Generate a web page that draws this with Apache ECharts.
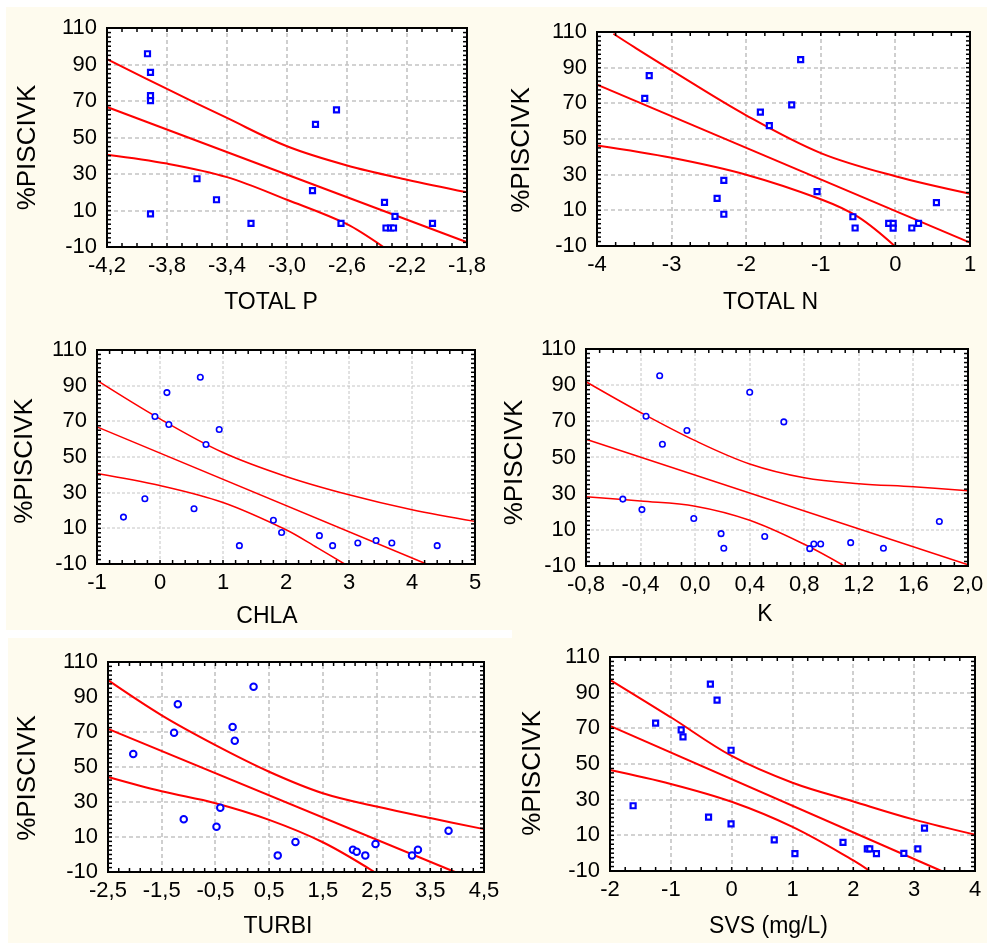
<!DOCTYPE html>
<html>
<head>
<meta charset="utf-8">
<script src="https://cdn.jsdelivr.net/npm/echarts@6/dist/echarts.min.js"></script>
<style>
html,body{margin:0;padding:0;background:#ffffff;}
#wrap{position:relative;width:987px;height:943px;background:#fefbee;overflow:hidden;}
.bg{position:absolute;background:#ffffff;z-index:1;}
#chart{position:absolute;left:0;top:0;width:987px;height:943px;z-index:2;}
</style>
</head>
<body>
<div id="wrap"><div id="chart"></div></div>
<script>
// ---------- DATA ----------
const yName = '%PISCIVK';

// Panel 1: TOTAL P
const totalPX = [-3.93,-3.91,-3.91,-3.91,-3.91,-3.60,-3.47,-3.24,-2.81,-2.83,-2.67,-2.64,-2.35,-2.28,-2.34,-2.31,-2.29,-2.03];
const totalPY = [95.9,85.7,72.9,70.2,8.1,27.4,15.9,3.0,57.2,20.9,65.1,3.0,14.5,6.8,0.4,0.4,0.4,3.0];
const totalPFitX = [-4.2,-1.8];
const totalPFitY = [66.7,-7.4];
const totalPUpX = [-4.2,-3.8,-3.4,-3.0,-2.6,-2.2,-1.8];
const totalPUpY = [93,76.6,60.7,45.2,34.7,26.9,20];
const totalPLoX = [-4.2,-3.8,-3.4,-3.0,-2.6,-2.357];
const totalPLoY = [40.6,35.7,28.3,15.9,2.5,-10];

// Panel 2: TOTAL N
const totalNX = [-3.30,-3.36,-1.27,-1.39,-1.81,-1.69,-2.30,-2.39,-2.30,-1.05,-0.57,-0.54,-0.09,-0.03,-0.03,0.22,0.31,0.55];
const totalNY = [85.5,72.8,94.5,69.1,65.1,57.5,26.8,16.7,7.8,20.5,6.4,0.1,2.7,2.7,0,0.1,2.7,14.3];
const totalNFitX = [-4,1];
const totalNFitY = [80.5,-8.1];
const totalNUpX = [-3.78,-3.5,-3,-2,-1,0,1];
const totalNUpY = [109,101.5,88.5,63.3,42.1,29.1,19.3];
const totalNLoX = [-4,-3,-2,-1,-0.5,-0.01];
const totalNLoY = [46.4,39.5,30,16.2,6.3,-10];

// Panel 3: CHLA
const chlaX = [-0.58,-0.24,-0.08,0.11,0.14,0.64,0.73,0.94,0.54,1.26,1.80,1.93,2.53,2.74,3.14,3.43,3.68,4.40];
const chlaY = [16.3,26.6,72.7,86.1,68.2,94.7,57,65.4,21,0.3,14.5,7.7,5.9,0.3,1.8,3.2,1.8,0.3];
const chlaFitX = [-1,4.23];
const chlaFitY = [66.9,-10];
const chlaUpX = [-1,0,1,2,3,4,5];
const chlaUpY = [93,71.4,52.5,39.1,28.8,20.4,13.9];
const chlaLoX = [-1,0,1,2,2.5,2.93];
const chlaLoY = [40.8,34,24.5,9.2,-1,-10];

// Panel 4: K
const kX = [-0.26,0.40,-0.36,0.65,-0.06,-0.24,-0.53,-0.39,-0.01,0.19,0.21,0.51,0.84,0.87,0.92,1.14,1.38,1.79];
const kY = [95.2,86.1,72.8,69.7,64.9,57.3,27,21.2,16.3,7.9,-0.2,6.3,-0.4,2.2,2.2,2.9,-0.2,14.6];
const kFitX = [-0.8,2.0];
const kFitY = [60.1,-9.3];
const kUpX = [-0.8,-0.4,0,0.4,0.8,1.2,1.6,2.0];
const kUpY = [91.9,74.9,59.3,46.4,38.8,35.5,33.8,31.6];
const kLoX = [-0.8,-0.4,0,0.4,0.8,1.094];
const kLoY = [28.3,25.9,23.1,15.3,2,-10];

// Panel 5: TURBI
const turbiX = [-2.03,-1.20,-1.27,-1.09,-0.48,-0.41,-0.18,-0.14,0.21,0.66,0.99,2.06,2.13,2.29,2.48,3.16,3.27,3.84];
const turbiY = [57.4,85.9,69.6,20.2,15.8,26.7,72.8,65,95.8,-0.5,7.1,2.7,1.6,-0.5,6,-0.5,2.7,13.6];
const turbiFitX = [-2.5,3.96];
const turbiFitY = [71.8,-10];
const turbiUpX = [-2.5,-1.5,-0.5,0.5,1.5,2.5,3.5,4.5];
const turbiUpY = [99.6,79.5,62.5,47.3,35,27.4,20.8,14.5];
const turbiLoX = [-2.5,-1.5,-0.5,0.5,1.5,2.46];
const turbiLoY = [44.3,36.1,29.3,19.8,7,-10];

// Panel 6: SVS (mg/L)
const svsX = [-1.62,-1.25,-0.83,-0.80,-0.35,-0.24,-0.38,-0.01,-0.01,0.70,1.04,1.83,2.23,2.27,2.38,2.83,3.06,3.17];
const svsY = [26.6,72.9,69.1,65.2,94.8,85.8,20.2,57.7,16.4,7.4,-0.3,6.1,2.4,2.4,-0.3,-0.1,2.4,14];
const svsFitX = [-2,3.45];
const svsFitY = [71.4,-10];
const svsUpX = [-2,-1,0,1,2,3,4];
const svsUpY = [97.2,76.2,54.5,39.5,29,18.8,10.4];
const svsLoX = [-2,-1,0,1,2,2.27];
const svsLoY = [46.6,38.8,28.8,14.7,-4,-10];

// Axis names and x-axis ranges [min, max, interval, decimals, minor splits]
const xNames = ['TOTAL P','TOTAL N','CHLA','K','TURBI','SVS (mg/L)'];
const xRanges = [[-4.2,-1.8,0.4,1,4],[-4,1,1,0,4],[-1,5,1,0,5],[-0.8,2.0,0.4,1,4],[-2.5,4.5,1,1,5],[-2,4,1,0,4]];
const yRange = [-10,110,20,8];

// ---------- LAYOUT / STYLE ----------
const panels = [
  {x:totalPX,y:totalPY,fx:totalPFitX,fy:totalPFitY,ux:totalPUpX,uy:totalPUpY,lx:totalPLoX,ly:totalPLoY},
  {x:totalNX,y:totalNY,fx:totalNFitX,fy:totalNFitY,ux:totalNUpX,uy:totalNUpY,lx:totalNLoX,ly:totalNLoY},
  {x:chlaX,y:chlaY,fx:chlaFitX,fy:chlaFitY,ux:chlaUpX,uy:chlaUpY,lx:chlaLoX,ly:chlaLoY},
  {x:kX,y:kY,fx:kFitX,fy:kFitY,ux:kUpX,uy:kUpY,lx:kLoX,ly:kLoY},
  {x:turbiX,y:turbiY,fx:turbiFitX,fy:turbiFitY,ux:turbiUpX,uy:turbiUpY,lx:turbiLoX,ly:turbiLoY},
  {x:svsX,y:svsY,fx:svsFitX,fy:svsFitY,ux:svsUpX,uy:svsUpY,lx:svsLoX,ly:svsLoY}
];
const layout = [
  {l:107,t:28,w:360,h:219, xGap:44, yGap:66, xShift:32, yShift:20, marker:'sq', lw:2, thin:false},
  {l:597,t:32,w:373,h:214, xGap:45, yGap:62, xShift:26, yShift:22, marker:'sq', lw:2, thin:false},
  {l:97, t:350,w:378,h:214, xGap:41, yGap:59, xShift:38, yShift:8,  marker:'ci', lw:1.5, thin:true},
  {l:586,t:349,w:382,h:217, xGap:37, yGap:58, xShift:24, yShift:10, marker:'ci', lw:1.5, thin:true},
  {l:108,t:662,w:376,h:210, xGap:43, yGap:67, xShift:36, yShift:22, marker:'ci2', lw:2, thin:false},
  {l:610,t:657,w:365,h:214, xGap:44, yGap:64, xShift:48, yShift:18, marker:'sq', lw:2, thin:false}
];
const whiteRects = [[0,0,987,7],[0,0,6,630],[0,630,512,8],[0,638,8,305]];
const FONT = '"Liberation Sans", Arial, sans-serif';
const RED = '#ff0000';
const BLUE = '#0000ff';

// white page strips and white plot areas, beneath the transparent chart canvas
const wrap = document.getElementById('wrap');
function addBg(x, y, w, h){
  const d = document.createElement('div');
  d.className = 'bg';
  d.style.left = x + 'px'; d.style.top = y + 'px'; d.style.width = w + 'px'; d.style.height = h + 'px';
  wrap.insertBefore(d, wrap.firstChild);
}
whiteRects.forEach(r => addBg(r[0], r[1], r[2], r[3]));
layout.forEach(L => addBg(L.l, L.t, L.w, L.h));

const grids = [], xAxes = [], yAxes = [], series = [];
function fmt(dec){ return v => (dec ? v.toFixed(dec) : String(Math.round(v))).replace('.', ','); }

// dashed grid lines, drawn through the axis scales
function gridRender(i){
  return function(params, api){
    const r = xRanges[i], L = layout[i];
    const st = L.thin ? {stroke:'#c4c4c4', lineWidth:1, lineDash:[3,2]} : {stroke:'#c4c4c4', lineWidth:1.6, lineDash:[4,3]};
    const ch = [];
    const nx = Math.round((r[1]-r[0])/r[2]);
    for (let k = 1; k < nx; k++){
      const v = r[0] + k*r[2];
      const a = api.coord([v, yRange[0]]), b = api.coord([v, yRange[1]]);
      const x = Math.round(a[0]);
      ch.push({type:'line', shape:{x1:x, y1:a[1], x2:x, y2:b[1]}, style:Object.assign({}, st)});
    }
    const ny = Math.round((yRange[1]-yRange[0])/yRange[2]);
    for (let k = 1; k < ny; k++){
      const v = yRange[0] + k*yRange[2];
      const a = api.coord([r[0], v]), b = api.coord([r[1], v]);
      const y = Math.round(a[1]);
      ch.push({type:'line', shape:{x1:a[0], y1:y, x2:b[0], y2:y}, style:Object.assign({}, st)});
    }
    return {type:'group', children:ch};
  };
}
// black frame and inside ticks on all four sides
function frameRender(i){
  return function(params, api){
    const r = xRanges[i];
    const p0 = api.coord([r[0], yRange[0]]), p1 = api.coord([r[1], yRange[1]]);
    const left = p0[0], bottom = p0[1], right = p1[0], top = p1[1];
    const tk = {stroke:'#000', lineWidth:1.5};
    const ch = [];
    const nxm = Math.round((r[1]-r[0])/r[2]) * r[4];
    for (let k = 0; k <= nxm; k++){
      const v = r[0] + k*(r[2]/r[4]);
      const x = api.coord([v, yRange[0]])[0];
      ch.push({type:'line', shape:{x1:x, y1:bottom, x2:x, y2:bottom-4}, style:Object.assign({}, tk)});
      ch.push({type:'line', shape:{x1:x, y1:top, x2:x, y2:top+4}, style:Object.assign({}, tk)});
    }
    const nym = Math.round((yRange[1]-yRange[0])/yRange[2]) * yRange[3];
    for (let k = 0; k <= nym; k++){
      const v = yRange[0] + k*(yRange[2]/yRange[3]);
      const y = api.coord([r[0], v])[1];
      ch.push({type:'line', shape:{x1:left, y1:y, x2:left+4, y2:y}, style:Object.assign({}, tk)});
      ch.push({type:'line', shape:{x1:right, y1:y, x2:right-4, y2:y}, style:Object.assign({}, tk)});
    }
    ch.push({type:'rect', shape:{x:left, y:top, width:right-left, height:bottom-top}, style:{fill:'none', stroke:'#000', lineWidth:2}});
    return {type:'group', children:ch};
  };
}

layout.forEach((L, i) => {
  const r = xRanges[i];
  grids.push({left:L.l, top:L.t, width:L.w, height:L.h, show:false});
  xAxes.push({
    gridIndex:i, type:'value', position:'bottom', min:r[0], max:r[1], interval:r[2],
    axisLine:{show:false, onZero:false}, axisTick:{show:false}, splitLine:{show:false},
    axisLabel:{show:true, formatter:fmt(r[3]), fontSize:22, color:'#000', fontFamily:FONT, margin:8, showMinLabel:true, showMaxLabel:true},
    name:xNames[i], nameLocation:'middle', nameGap:L.xGap,
    nameTextStyle:{fontSize:23, color:'#000', fontFamily:FONT, padding:[0, L.xShift, 0, 0]}
  });
  yAxes.push({
    gridIndex:i, type:'value', position:'left', min:yRange[0], max:yRange[1], interval:yRange[2],
    axisLine:{show:false, onZero:false}, axisTick:{show:false}, splitLine:{show:false},
    axisLabel:{show:true, fontSize:22, color:'#000', fontFamily:FONT, margin:10, showMinLabel:true, showMaxLabel:true},
    name:yName, nameLocation:'middle', nameGap:L.yGap, nameRotate:90,
    nameTextStyle:{fontSize:26, color:'#000', fontFamily:FONT, padding:[0, L.yShift, 0, 0]}
  });

  series.push({type:'custom', coordinateSystem:'cartesian2d', xAxisIndex:i, yAxisIndex:i,
    data:[[r[0], yRange[0]]], encode:{x:0, y:1}, renderItem:gridRender(i), clip:false, silent:true, z:1, animation:false});

  const P = panels[i];
  const pts = P.x.map((v, k) => [v, P.y[k]]);
  let sym;
  if (L.marker === 'sq') sym = {symbol:'rect', symbolSize:5, itemStyle:{color:'#ffffff', borderColor:BLUE, borderWidth:2.2, opacity:1}};
  else if (L.marker === 'ci') sym = {symbol:'circle', symbolSize:5.5, itemStyle:{color:'#ffffff', borderColor:BLUE, borderWidth:1.6, opacity:1}};
  else sym = {symbol:'circle', symbolSize:6.5, itemStyle:{color:'#ffffff', borderColor:BLUE, borderWidth:2, opacity:1}};

  const lineBase = {type:'line', xAxisIndex:i, yAxisIndex:i, showSymbol:false, symbol:'none', silent:true, clip:true, z:3, animation:false};
  series.push(Object.assign({}, lineBase, {data:P.fx.map((v,k)=>[v,P.fy[k]]), lineStyle:{color:RED, width:L.lw}}));
  series.push(Object.assign({}, lineBase, {data:P.ux.map((v,k)=>[v,P.uy[k]]), smooth:0.35, lineStyle:{color:RED, width:L.lw}}));
  series.push(Object.assign({}, lineBase, {data:P.lx.map((v,k)=>[v,P.ly[k]]), smooth:0.35, lineStyle:{color:RED, width:L.lw}}));
  series.push(Object.assign({type:'scatter', xAxisIndex:i, yAxisIndex:i, data:pts, z:4, animation:false, silent:true}, sym));

  series.push({type:'custom', coordinateSystem:'cartesian2d', xAxisIndex:i, yAxisIndex:i,
    data:[[r[0], yRange[0]]], encode:{x:0, y:1}, renderItem:frameRender(i), clip:false, silent:true, z:6, animation:false});
});

const chart = echarts.init(document.getElementById('chart'), null, {renderer:'canvas'});
chart.setOption({
  backgroundColor:'rgba(0,0,0,0)',
  animation:false,
  textStyle:{fontFamily:FONT},
  grid:grids,
  xAxis:xAxes,
  yAxis:yAxes,
  series:series
});
</script>
</body>
</html>
